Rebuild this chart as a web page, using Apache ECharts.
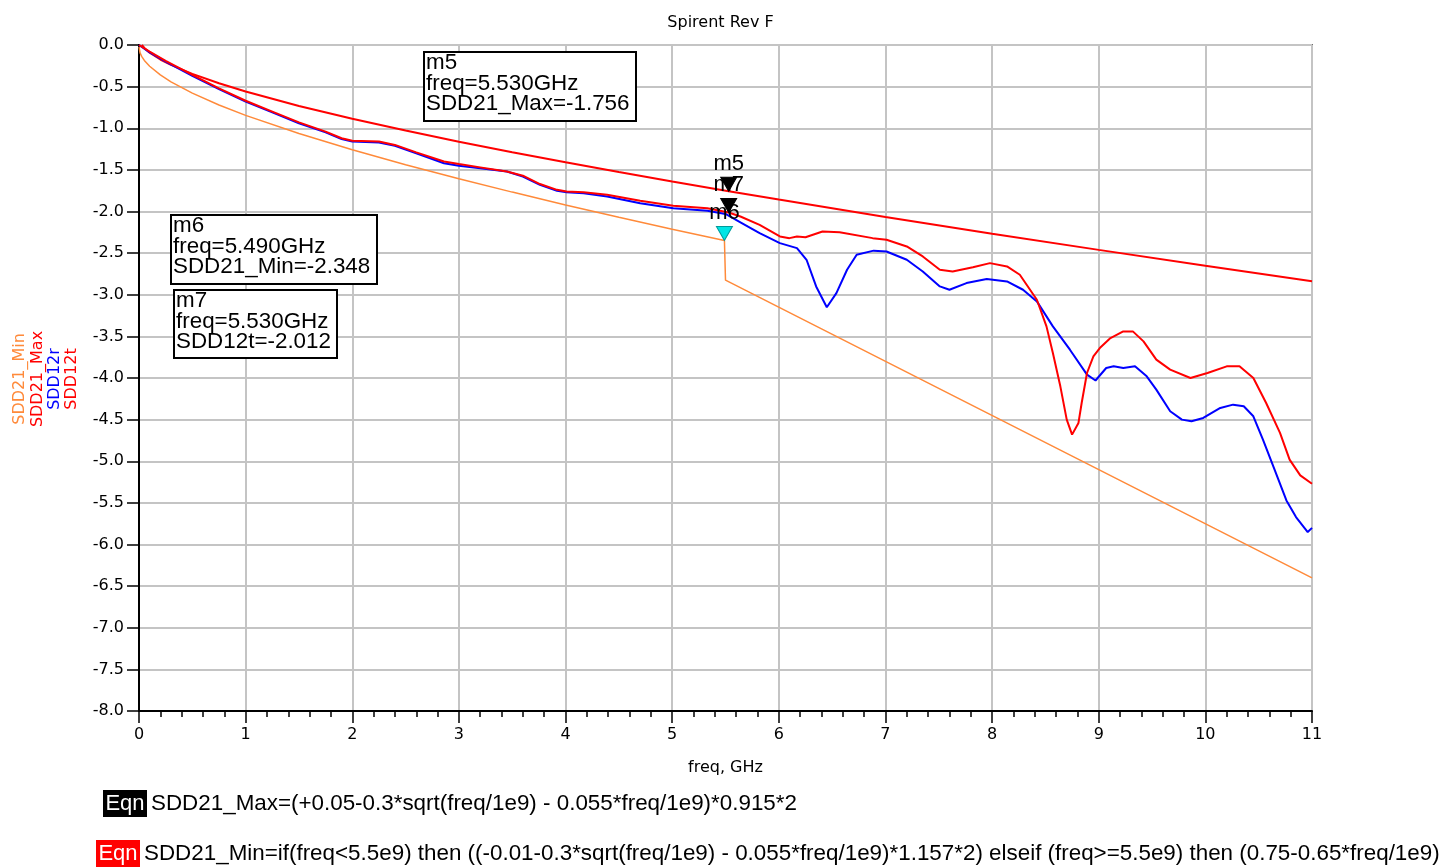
<!DOCTYPE html>
<html>
<head>
<meta charset="utf-8">
<script src="https://cdn.jsdelivr.net/npm/echarts@6/dist/echarts.min.js"></script>
<style>
html,body{margin:0;padding:0;background:#fff;}
#chart{width:1441px;height:867px;}
</style>
</head>
<body>
<div id="chart"></div>
<script>
// ---- data ----
const titleText = 'Spirent Rev F';
const xAxisName = 'freq, GHz';
const xTicks = {min: 0, max: 11, interval: 1};
const yTicks = {min: -8, max: 0, interval: 0.5};

// SDD21_Max limit line [freq GHz, dB]
const sdd21Max = [[0.027,0.0],[0.05,-0.036],[0.1,-0.092],[0.2,-0.174],[0.3,-0.239],[0.5,-0.347],[0.75,-0.459],[1,-0.558],[1.5,-0.732],[2,-0.886],[2.5,-1.028],[3,-1.161],[3.5,-1.288],[4,-1.409],[4.5,-1.526],[5,-1.639],[5.53,-1.756],[6,-1.857],[7,-2.066],[8,-2.267],[9,-2.461],[10,-2.651],[11,-2.837]];

// SDD21_Min limit line
const sdd21Min = [[0,-0.023],[0.01,-0.094],[0.025,-0.136],[0.05,-0.185],[0.1,-0.255],[0.2,-0.359],[0.3,-0.442],[0.5,-0.578],[0.75,-0.720],[1,-0.845],[1.5,-1.064],[2,-1.259],[2.5,-1.439],[3,-1.607],[3.5,-1.767],[4,-1.921],[4.5,-2.069],[5,-2.212],[5.49,-2.348],[5.5,-2.825],[11,-6.40]];

// SDD12r measured (blue)
const sdd12r = [[0,0],[0.1,-0.09],[0.25,-0.2],[0.5,-0.37],[0.75,-0.53],[1,-0.68],[1.25,-0.81],[1.5,-0.94],[1.75,-1.05],[1.9,-1.13],[2,-1.16],[2.25,-1.17],[2.4,-1.21],[2.6,-1.30],[2.86,-1.42],[3,-1.45],[3.2,-1.48],[3.45,-1.52],[3.6,-1.58],[3.76,-1.68],[3.92,-1.75],[4.01,-1.77],[4.17,-1.78],[4.39,-1.82],[4.7,-1.9],[5.01,-1.96],[5.33,-1.99],[5.5,-2.03],[5.64,-2.13],[5.82,-2.26],[6.01,-2.38],[6.17,-2.44],[6.26,-2.58],[6.35,-2.9],[6.45,-3.15],[6.54,-2.98],[6.64,-2.7],[6.73,-2.52],[6.89,-2.47],[7.01,-2.48],[7.2,-2.58],[7.35,-2.72],[7.51,-2.9],[7.6,-2.94],[7.76,-2.86],[7.95,-2.81],[8.14,-2.84],[8.29,-2.94],[8.42,-3.08],[8.57,-3.38],[8.73,-3.66],[8.89,-3.96],[8.97,-4.03],[9.07,-3.88],[9.14,-3.86],[9.23,-3.88],[9.34,-3.86],[9.45,-3.98],[9.54,-4.14],[9.67,-4.4],[9.78,-4.5],[9.87,-4.52],[9.98,-4.48],[10.14,-4.36],[10.26,-4.32],[10.36,-4.34],[10.45,-4.46],[10.54,-4.74],[10.64,-5.07],[10.76,-5.47],[10.85,-5.67],[10.96,-5.85],[11,-5.8]];

// SDD12t measured (red)
const sdd12t = [[0,0],[0.1,-0.08],[0.25,-0.19],[0.5,-0.36],[0.75,-0.52],[1,-0.67],[1.25,-0.8],[1.5,-0.93],[1.75,-1.04],[1.9,-1.12],[2,-1.15],[2.25,-1.16],[2.4,-1.2],[2.6,-1.29],[2.86,-1.4],[3,-1.43],[3.2,-1.47],[3.45,-1.52],[3.6,-1.57],[3.76,-1.67],[3.92,-1.74],[4.01,-1.76],[4.17,-1.77],[4.39,-1.8],[4.7,-1.87],[5.01,-1.93],[5.33,-1.96],[5.53,-2.012],[5.64,-2.06],[5.82,-2.16],[6.01,-2.3],[6.1,-2.32],[6.17,-2.3],[6.25,-2.31],[6.41,-2.24],[6.57,-2.25],[6.88,-2.32],[7.01,-2.34],[7.2,-2.42],[7.35,-2.54],[7.51,-2.7],[7.63,-2.72],[7.82,-2.67],[7.98,-2.62],[8.14,-2.66],[8.26,-2.76],[8.42,-3.06],[8.51,-3.38],[8.57,-3.7],[8.64,-4.1],[8.7,-4.5],[8.75,-4.68],[8.81,-4.54],[8.84,-4.3],[8.89,-3.94],[8.95,-3.74],[9.01,-3.64],[9.11,-3.52],[9.23,-3.44],[9.32,-3.44],[9.42,-3.56],[9.54,-3.78],[9.67,-3.9],[9.86,-4.0],[10.02,-3.94],[10.2,-3.86],[10.32,-3.86],[10.45,-4.0],[10.57,-4.3],[10.7,-4.66],[10.79,-4.98],[10.89,-5.17],[11,-5.27]];

// markers
const markerNames = ['m5','m7','m6'];
const markerFreq = [5.53, 5.53, 5.49];
const markerVal = [-1.756, -2.012, -2.348];
const markerSeries = ['SDD21_Max', 'SDD12t', 'SDD21_Min'];

const seriesNames = ['SDD21_Min', 'SDD21_Max', 'SDD12r', 'SDD12t'];
const eqnMax = 'SDD21_Max=(+0.05-0.3*sqrt(freq/1e9) - 0.055*freq/1e9)*0.915*2';
const eqnMin = 'SDD21_Min=if(freq<5.5e9) then ((-0.01-0.3*sqrt(freq/1e9) - 0.055*freq/1e9)*1.157*2) elseif (freq>=5.5e9) then (0.75-0.65*freq/1e9)';

// ---- styles ----
const FONT = '"Liberation Sans", Arial, sans-serif';
const SMALL = '"DejaVu Sans", Verdana, sans-serif';
const C_ORANGE = '#ff8a3a';
const C_RED = '#ff0000';
const C_BLUE = '#0000ff';
const seriesColors = [C_ORANGE, C_RED, C_BLUE, C_RED];

const chart = echarts.init(document.getElementById('chart'));

function readout(idx, x, y, w, h) {
  const lines = [markerNames[idx], 'freq=' + markerFreq[idx].toFixed(3) + 'GHz', markerSeries[idx] + '=' + markerVal[idx].toFixed(3)];
  return [
    {type: 'rect', z: 100, shape: {x: x, y: y, width: w, height: h}, style: {fill: '#fff', stroke: '#000', lineWidth: 2}},
    {type: 'text', z: 101, x: x + 2, y: y + 0.5, style: {text: lines.join('\n'), font: '22.4px ' + FONT, fill: '#000', lineHeight: 20.7, textVerticalAlign: 'top'}}
  ];
}

const legendX = [20, 37.5, 55, 72];
let graphics = [];
seriesNames.forEach((n, i) => {
  graphics.push({type: 'text', z: 50, x: legendX[i], y: 379, rotation: Math.PI / 2,
    style: {text: n, font: '16px ' + SMALL, fill: seriesColors[i], textAlign: 'center', textVerticalAlign: 'middle'}});
});
graphics = graphics.concat(readout(0, 424, 52, 212, 69));
graphics = graphics.concat(readout(2, 171, 215, 206, 69));
graphics = graphics.concat(readout(1, 174, 290, 163, 68));
// equations
graphics.push({type: 'rect', z: 100, shape: {x: 103, y: 790, width: 44, height: 27}, style: {fill: '#000'}});
graphics.push({type: 'text', z: 101, x: 125, y: 803.5, style: {text: 'Eqn', font: '22px ' + FONT, fill: '#fff', textAlign: 'center', textVerticalAlign: 'middle'}});
graphics.push({type: 'text', z: 101, x: 151, y: 803.5, style: {text: eqnMax, font: '22.4px ' + FONT, fill: '#000', textVerticalAlign: 'middle'}});
graphics.push({type: 'rect', z: 100, shape: {x: 96, y: 840, width: 44, height: 27}, style: {fill: '#ff0000'}});
graphics.push({type: 'text', z: 101, x: 118, y: 853.5, style: {text: 'Eqn', font: '22px ' + FONT, fill: '#fff', textAlign: 'center', textVerticalAlign: 'middle'}});
graphics.push({type: 'text', z: 101, x: 144, y: 853.5, style: {text: eqnMin, font: '22.4px ' + FONT, fill: '#000', textVerticalAlign: 'middle'}});

const lineSeries = [sdd21Min, sdd21Max, sdd12r, sdd12t].map((d, i) => ({
  name: seriesNames[i], type: 'line', data: d, showSymbol: false, symbol: 'none',
  lineStyle: {color: seriesColors[i], width: i === 0 ? 1.5 : 2}, z: 2 + i, animation: false, clip: true
}));

const markerData = markerNames.map((n, i) => ({
  name: n, value: [markerFreq[i], markerVal[i]],
  itemStyle: {color: n === 'm6' ? '#00e5e5' : '#000', borderColor: n === 'm6' ? '#009a9a' : '#000', borderWidth: 1, opacity: 1}
}));

chart.setOption({
  animation: false,
  backgroundColor: '#fff',
  title: {text: titleText, left: 'center', top: 10, textStyle: {fontFamily: SMALL, fontSize: 16, fontWeight: 'normal', color: '#000'}},
  grid: {left: 139, right: 129, top: 45, bottom: 156, show: true, borderColor: '#000', borderWidth: 1.5, backgroundColor: 'transparent'},
  xAxis: {
    type: 'value', min: xTicks.min, max: xTicks.max, interval: xTicks.interval,
    name: xAxisName, nameLocation: 'middle', nameGap: 49,
    nameTextStyle: {fontFamily: SMALL, fontSize: 16, color: '#000'},
    axisLine: {show: true, onZero: false, lineStyle: {color: '#000', width: 2}},
    axisTick: {show: true, length: 12, lineStyle: {color: '#000', width: 1.5}},
    minorTick: {show: true, splitNumber: 5, length: 6, lineStyle: {color: '#000', width: 1.5}},
    axisLabel: {fontFamily: SMALL, fontSize: 16, color: '#000', margin: 16},
    splitLine: {show: true, lineStyle: {color: '#c4c4c4', width: 2}}
  },
  yAxis: {
    type: 'value', min: yTicks.min, max: yTicks.max, interval: yTicks.interval,
    axisLine: {show: true, onZero: false, lineStyle: {color: '#000', width: 2}},
    axisTick: {show: true, length: 12, lineStyle: {color: '#000', width: 1.5}},
    axisLabel: {fontFamily: SMALL, fontSize: 16, color: '#000', margin: 15, formatter: v => v.toFixed(1)},
    splitLine: {show: true, lineStyle: {color: '#c4c4c4', width: 2}}
  },
  series: lineSeries.concat([{
    name: 'markers', type: 'scatter', data: markerData, z: 20,
    symbol: 'triangle', symbolRotate: 180, symbolSize: [16, 14], symbolOffset: [0, '-50%'],
    label: {show: true, position: 'top', distance: 2, formatter: p => p.name, fontFamily: FONT, fontSize: 22, color: '#000'},
    emphasis: {disabled: true},
    animation: false
  }]),
  graphic: graphics
});
</script>
</body>
</html>
